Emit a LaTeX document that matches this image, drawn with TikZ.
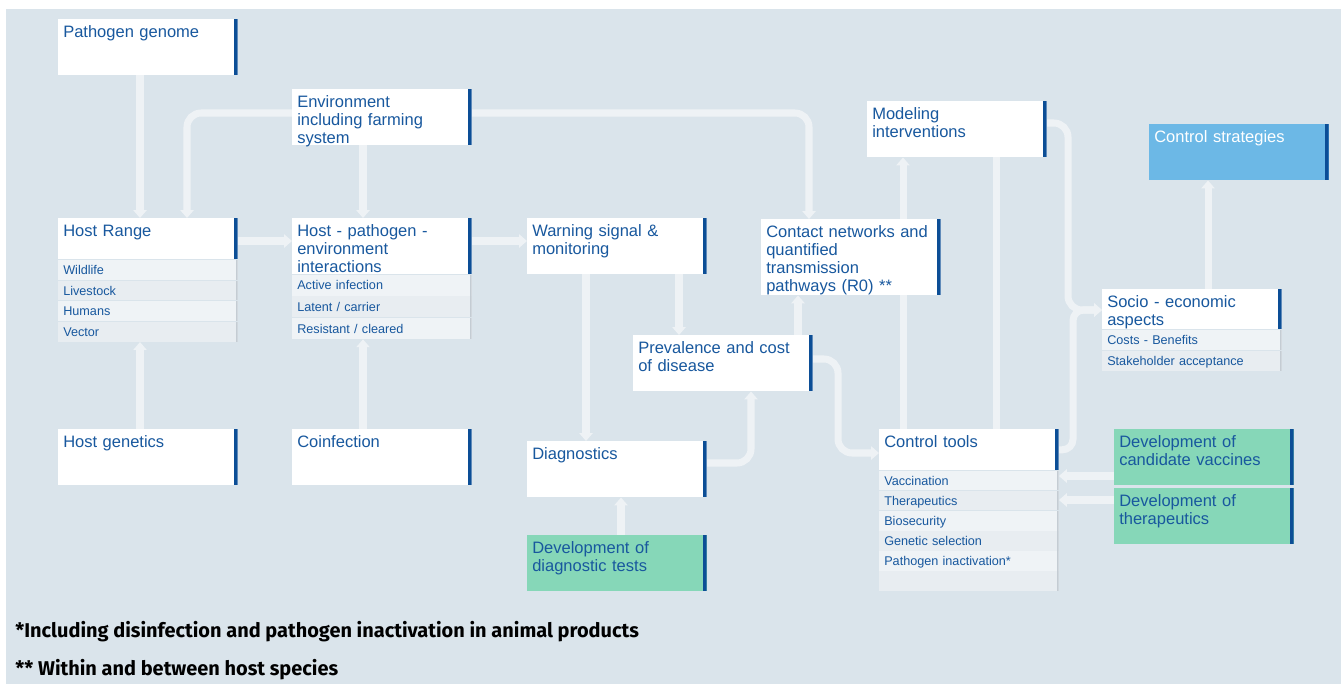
\documentclass[tikz,border=0pt]{standalone}
\usepackage{fontspec}
\setmainfont{Liberation Sans}
\newfontfamily\notefont{Fira Sans}
\usepackage{tikz}
\usetikzlibrary{positioning}
\usetikzlibrary{arrows.meta}
\definecolor{bgblue}{RGB}{218,228,235}
\definecolor{txtblue}{RGB}{24,88,158}
\definecolor{barblue}{RGB}{12,78,150}
\definecolor{rowA}{RGB}{239,243,246}
\definecolor{rowB}{RGB}{232,237,241}
\definecolor{rowbar}{RGB}{196,204,211}
\definecolor{flowc}{RGB}{238,242,245}
\definecolor{devgreen}{RGB}{134,215,184}
\definecolor{stratblue}{RGB}{108,184,230}
\pgfdeclarelayer{back}
\pgfdeclarelayer{flows}
\pgfsetlayers{back,flows,main}
\tikzset{
box/.style={anchor=north west,fill=white,text=txtblue,inner xsep=2.8pt,inner ysep=3.2pt,
  text width=96.4pt,align=left,text height=7pt,text depth=#1,
  font=\fontsize{9.4}{10.2}\selectfont,
  path picture={\fill[barblue] ([xshift=-1.8pt]path picture bounding box.north east) rectangle (path picture bounding box.south east);}},
box/.default=18.35pt,
subrow/.style={fill=#1,text=txtblue,inner xsep=2.8pt,inner ysep=0pt,text width=96.4pt,align=left,
  minimum height=11.34pt,text height=6.05pt,text depth=0.75pt,
  font=\fontsize{7.2}{8}\selectfont,
  path picture={\fill[rowbar] ([xshift=-1pt]path picture bounding box.north east) rectangle (path picture bounding box.south east);}},
subrow/.default=rowA,
flow/.style={draw=flowc,line width=4pt,rounded corners=8pt,-{Triangle[width=7.5pt,length=4.5pt]}},
flowline/.style={draw=flowc,line width=4pt,rounded corners=8pt},
note/.style={anchor=west,inner sep=0pt,text=black,font=\notefont\bfseries\fontsize{11.35}{13}\selectfont}
}
\begin{document}
\begin{tikzpicture}[x=0.02cm,y=-0.02cm,node distance=0pt]
\useasboundingbox (0,0) rectangle (1341,684);
\begin{pgfonlayer}{back}
\fill[white] (0,0) rectangle (1341,684);
\fill[bgblue] (6,9) rectangle (1341,684);
\end{pgfonlayer}

\node[box] (pg) at (58,19) {Pathogen genome};
\node[box] (env) at (292,89) {Environment\\including farming\\system};

\node[box=9.84pt] (hr) at (58,218) {Host Range};
\node[subrow] (hr1) [below=of hr] {Wildlife};
\node[subrow=rowB] (hr2) [below=of hr1] {Livestock};
\node[subrow] (hr3) [below=of hr2] {Humans};
\node[subrow=rowB] (hr4) [below=of hr3] {Vector};

\node[box] (hp) at (292,218) {Host - pathogen -\\environment\\interactions};
\node[subrow,minimum height=11.9pt] (hp1) [below=of hp] {Active infection};
\node[subrow=rowB,minimum height=11.9pt] (hp2) [below=of hp1] {Latent / carrier};
\node[subrow,minimum height=11.9pt] (hp3) [below=of hp2] {Resistant / cleared};

\node[box] (hg) at (58,429) {Host genetics};
\node[box] (co) at (292,429) {Coinfection};

\node[box] (ws) at (527,218) {Warning signal \&\\monitoring};
\node[box=29.69pt] (cn) at (761,219) {Contact networks and\\quantified\\transmission\\pathways (R0) **};
\node[box] (pc) at (633,335) {Prevalence and cost\\of disease};
\node[box] (dg) at (527,441) {Diagnostics};
\node[box,fill=devgreen] (ddt) at (527,535) {Development of\\diagnostic tests};

\node[box] (mi) at (867,101) {Modeling\\interventions};
\node[box,fill=stratblue,text=white] (cs) at (1149,124) {Control strategies};

\node[box=9.28pt] (se) at (1102,289) {Socio - economic\\aspects};
\node[subrow,minimum height=11.6pt] (se1) [below=of se] {Costs - Benefits};
\node[subrow=rowB,minimum height=11.6pt] (se2) [below=of se1] {Stakeholder acceptance};

\node[box=9.84pt] (ct) at (879,429) {Control tools};
\node[subrow,minimum height=11.05pt] (ct1) [below=of ct] {Vaccination};
\node[subrow=rowB,minimum height=11.05pt] (ct2) [below=of ct1] {Therapeutics};
\node[subrow,minimum height=11.05pt] (ct3) [below=of ct2] {Biosecurity};
\node[subrow=rowB,minimum height=11.05pt] (ct4) [below=of ct3] {Genetic selection};
\node[subrow,minimum height=11.05pt] (ct5) [below=of ct4] {Pathogen inactivation*};
\node[subrow=rowB,minimum height=11.05pt] (ct6) [below=of ct5] {};

\node[box,fill=devgreen] (cv) at (1114,429) {Development of\\candidate vaccines};
\node[box,fill=devgreen] (dt) at (1114,488) {Development of\\therapeutics};

\node[note] (n1) at (15,632) {*Including disinfection and pathogen inactivation in animal products};
\node[note] (n2) at (15,670) {** Within and between host species};

\begin{pgfonlayer}{flows}
\draw[flow] (140,0 |- pg.south) -- (140,0 |- hr.north);
\draw[flow] (env.west |- 0,113) -| (187,0 |- hr.north);
\draw[flow] (363,0 |- env.south) -- (363,0 |- hp.north);
\draw[flow] (env.east |- 0,113) -| (809,0 |- cn.north);
\draw[flow] (hr.east |- 0,241) -- (hp.west |- 0,241);
\draw[flow] (hp.east |- 0,241) -- (ws.west |- 0,241);
\draw[flow] (140,0 |- hg.north) -- (140,0 |- hr4.south);
\draw[flow] (363,0 |- co.north) -- (363,0 |- hp3.south);
\draw[flow] (586,0 |- ws.south) -- (586,0 |- dg.north);
\draw[flow] (679,0 |- ws.south) -- (679,0 |- pc.north);
\draw[flow] (798,0 |- pc.north) -- (798,0 |- cn.south);
\draw[flow] (dg.east |- 0,463) -| (751,0 |- pc.south);
\draw[flow] (pc.east |- 0,359) -| (838,453) -- (ct.west |- 0,453);
\draw[flow] (621,0 |- ddt.north) -- (621,0 |- dg.south);
\draw[flow] (903,0 |- ct.north) -- (903,0 |- mi.south);
\draw[flowline] (996,0 |- ct.north) -- (996,0 |- mi.south);
\draw[flow] (mi.east |- 0,123) -| (1068,310) -- (se.west |- 0,310);
\draw[flow,rounded corners=6pt] (ct.east) -| (1073,310) -- (se.west |- 0,310);
\draw[flow] (1208,0 |- se.north) -- (1208,0 |- cs.south);
\draw[flow] (cv.west |- 0,476) -- (ct.east |- 0,476);
\draw[flow] (dt.west |- 0,500) -- (ct.east |- 0,500);
\end{pgfonlayer}
\end{tikzpicture}
\end{document}
